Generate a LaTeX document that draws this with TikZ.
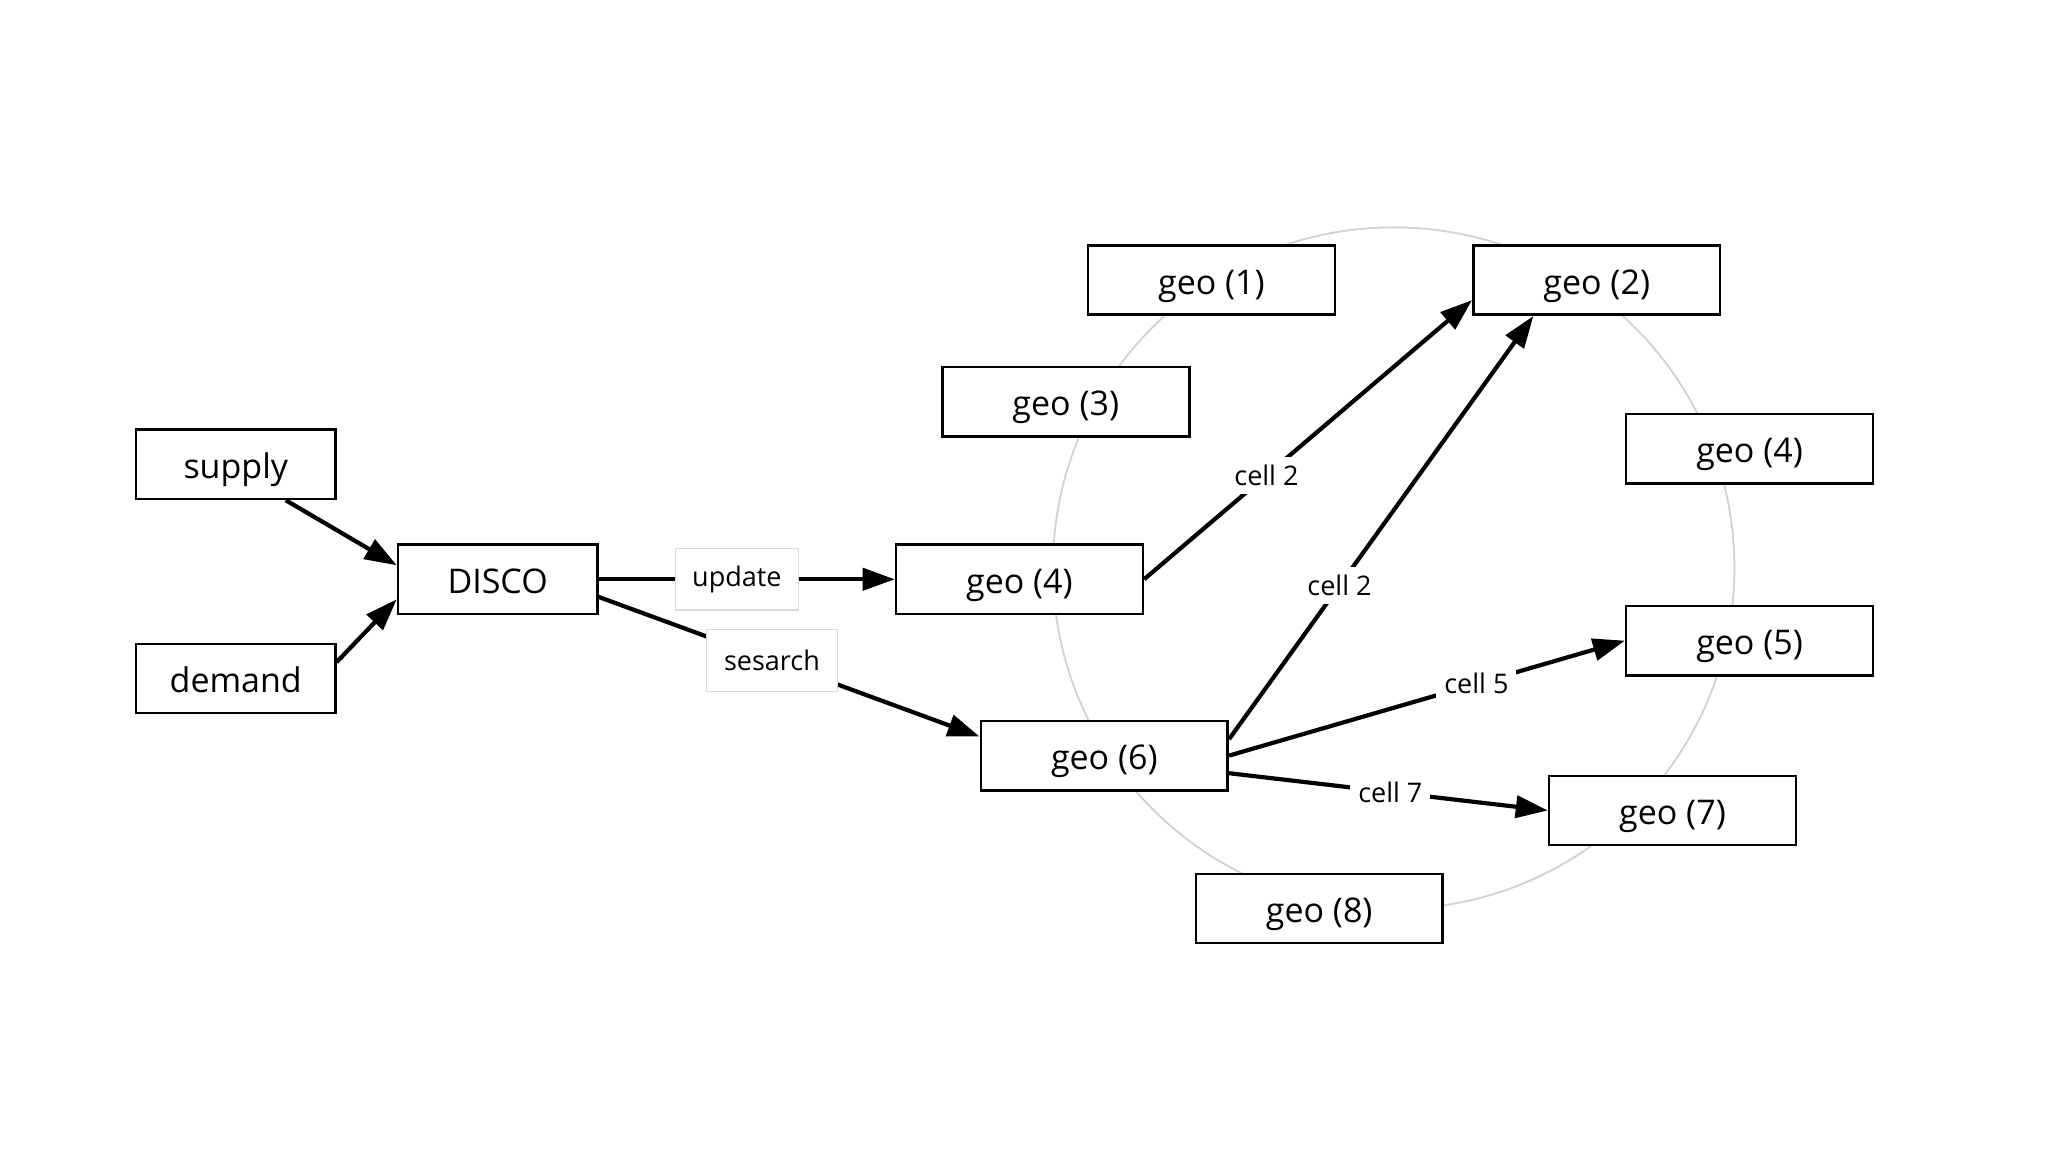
\documentclass[tikz,border=0pt]{standalone}
\usepackage{fontspec}
\setmainfont{Open Sans}
\usetikzlibrary{arrows.meta}
\begin{document}
\begin{tikzpicture}[x=0.65306pt,y=-0.65306pt,
  box/.style={draw=black,fill=white,line width=1.3pt,inner sep=0pt,minimum height=34.6pt,text height=16pt,text depth=2pt,font=\fontsize{17}{20}\selectfont},
  smallbox/.style={box,minimum width=99.6pt},
  geobox/.style={box,minimum width=123.4pt},
  lblbox/.style={draw=black!15,fill=white,line width=0.6pt,inner sep=0pt,minimum height=30.7pt,font=\fontsize{13.5}{16}\selectfont},
  lbl/.style={fill=white,inner sep=4pt,font=\fontsize{13.5}{16}\selectfont},
  arr/.style={line width=2.1pt,-{Triangle[length=16pt,width=11pt]}},
  ring/.style={draw=black!18,line width=0.9pt}
]
\path[use as bounding box] (0,0) rectangle (1568,882);
\draw[ring] (1067,435) circle[radius=170.4pt];

\node[smallbox] (supply) at (180.5,355.5) {supply};
\node[smallbox] (demand) at (180.5,519.5) {demand};
\node[smallbox] (disco) at (381,443.5) {DISCO};
\node[geobox] (g4l) at (780.5,443.5) {geo (4)};
\node[geobox] (g6) at (845.5,578.5) {geo (6)};
\node[geobox] (g1) at (927.5,214.5) {geo (1)};
\node[geobox] (g2) at (1222.5,214.5) {geo (2)};
\node[geobox] (g3) at (816,307.5) {geo (3)};
\node[geobox] (g4r) at (1339.5,343.5) {geo (4)};
\node[geobox] (g5) at (1339.5,490.5) {geo (5)};
\node[geobox] (g7) at (1280.5,620.5) {geo (7)};
\node[geobox] (g8) at (1010,695.5) {geo (8)};

\draw[arr] ([xshift=25pt]supply.south) -- ([yshift=7pt]disco.west);
\draw[arr] ([yshift=8.2pt]demand.east) -- ([yshift=-10pt]disco.west);
\draw[arr] (disco.east) -- node[lblbox,pos=0.467,minimum width=61.4pt] (lu) {update} (g4l.west);
\draw[arr] ([yshift=-8.8pt]disco.east) -- node[lblbox,pos=0.455,minimum width=65.3pt] (ls) {sesarch} ([yshift=9.5pt]g6.west);
\draw[arr] (g4l.east) -- node[lbl,pos=0.373] (c1) {cell 2} ([yshift=-10pt]g2.west);
\draw[arr] ([yshift=8.2pt]g6.east) -- node[lbl,pos=0.363] (c2) {cell 2} ([xshift=-31.7pt]g2.south);
\draw[arr] (g6.east) -- node[lbl,pos=0.625] (c5) {cell 5} (g5.west);
\draw[arr] ([yshift=-8.8pt]g6.east) -- node[lbl,pos=0.506] (c7) {cell 7} (g7.west);
\end{tikzpicture}
\end{document}
